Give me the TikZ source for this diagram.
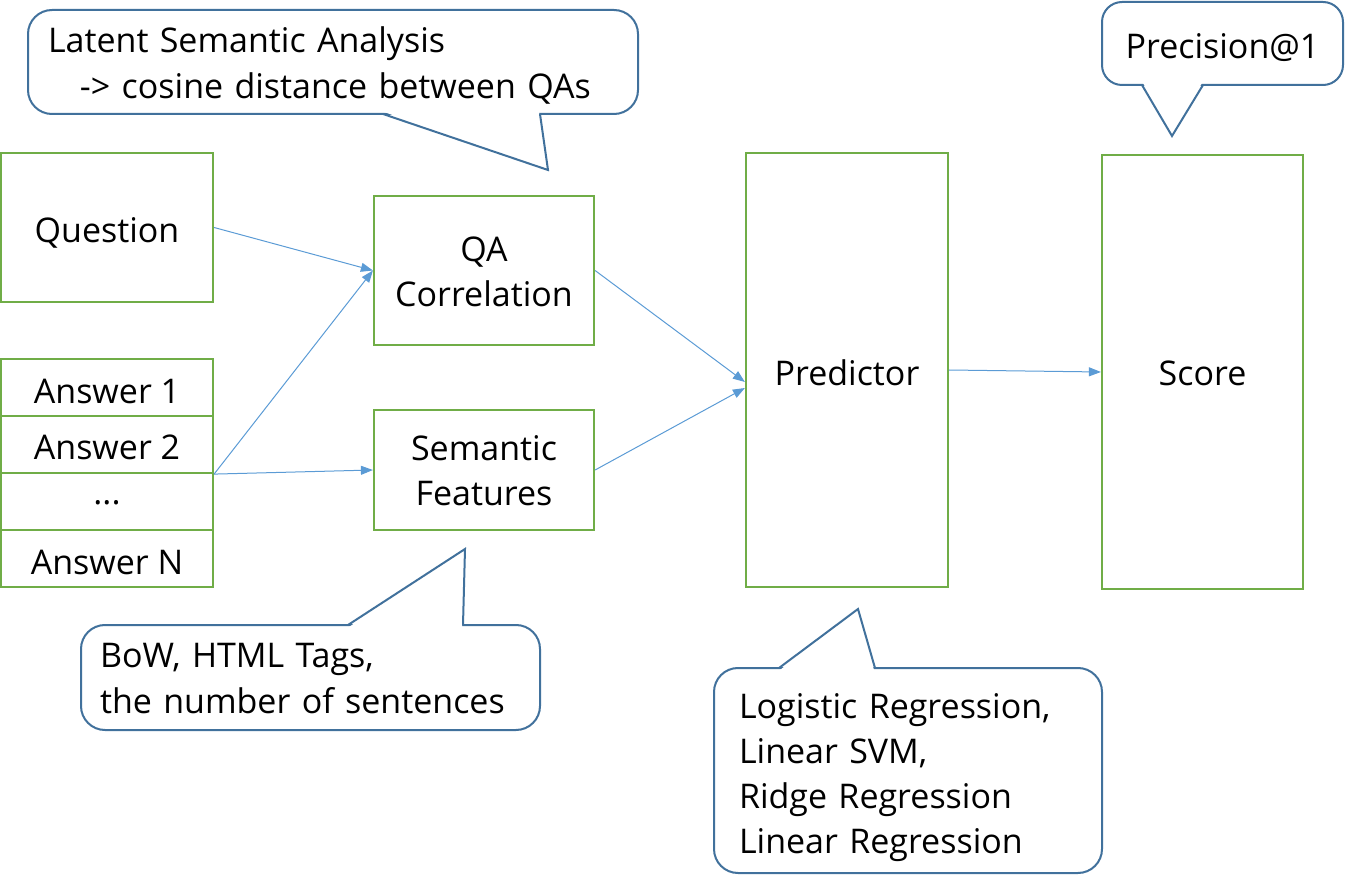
\documentclass[tikz,border=0pt]{standalone}
\usepackage{fontspec}
\setmainfont{Open Sans}
\usetikzlibrary{arrows.meta}
\definecolor{boxgreen}{HTML}{70AD47}
\definecolor{calloutblue}{HTML}{41719C}
\definecolor{arrowblue}{HTML}{5B9BD5}
\tikzset{x=1pt, y=-1pt,
  box/.style={draw=boxgreen, line width=2.2pt, inner sep=0pt, align=center, text height=31pt, text depth=0pt, font=\fontsize{34}{45}\selectfont},
  callout/.style={draw=calloutblue, line width=2pt, rounded corners=24pt, fill=white, inner ysep=0pt, text height=31pt, text depth=0pt, font=\fontsize{34}{46}\selectfont},
  tail/.style={draw=calloutblue, line width=2pt, line join=miter},
  flow/.style={draw=arrowblue, line width=1pt, -{Triangle[length=12pt,width=9pt]}}}

\begin{document}
\begin{tikzpicture}
           \useasboundingbox (0,0) rectangle (1345,885);

           \node[box, minimum width=212pt, minimum height=149pt] (question) at (107,227.5) {Question};
           \node[box, minimum width=212pt, minimum height=57pt] (ans1) at (107,387.5) {Answer 1};
           \node[box, minimum width=212pt, minimum height=57pt] (ans2) at (107,444.5) {Answer 2};
           \node[box, minimum width=212pt, minimum height=57pt, text height=5pt] (ansdots) at (107,501.5) {...};
           \node[box, minimum width=212pt, minimum height=57pt] (ansN) at (107,558.5) {Answer N};
           \node[box, minimum width=220pt, minimum height=149pt, text height=73pt] (qacorr) at (484,270.5) {QA\\Correlation};
           \node[box, minimum width=220pt, minimum height=120pt, text height=70pt] (semfeat) at (484,470) {Semantic\\Features};
           \node[box, minimum width=202pt, minimum height=434pt] (predictor) at (847,370) {Predictor};
           \node[box, minimum width=201pt, minimum height=434pt, text height=27pt] (score) at (1202.5,372) {Score};

           \draw[flow] (question.east) -- (qacorr.west);
           \draw[flow] (ans2.south east) -- (qacorr.west);
           \draw[flow] (ans2.south east) -- (semfeat.west);
           \draw[flow] (qacorr.east) -- ([yshift=-12pt]predictor.west);
           \draw[flow] (semfeat.east) -- ([yshift=-18pt]predictor.west);
           \draw[flow] (predictor.east) -- (score.west);

           \node[callout, minimum width=610pt, minimum height=104pt, text width=570pt, inner xsep=20pt, align=left, text depth=49pt] (lsa) at (333,62) {Latent Semantic Analysis\\\hspace*{32pt}-> cosine distance between QAs};
           \fill[white] (384,112) -- (548,170) -- (539,112) -- cycle;
           \draw[tail] (383,114) -- (548,170) -- (540,114);

           \node[callout, rounded corners=20pt, minimum width=241pt, minimum height=83pt] (prec) at (1222.5,43.5) {Precision@1};
           \fill[white] (1143,83) -- (1172,136) -- (1202,83) -- cycle;
           \draw[tail] (1142,85) -- (1172,136) -- (1203,85);

           \node[callout, minimum width=459pt, minimum height=105pt, text width=421pt, inner xsep=19pt, align=left, text depth=52pt] (bow) at (310.5,677.5) {BoW, HTML Tags,\\the number of sentences};
           \fill[white] (349,627) -- (465,549) -- (462,627) -- cycle;
           \draw[tail] (348,625) -- (465,549) -- (463,625);

           \node[callout, minimum width=388pt, minimum height=205pt, text width=338pt, inner xsep=25pt, align=left, text depth=136pt, font=\fontsize{34}{45}\selectfont] (models) at (908,770.5) {Logistic Regression,\\Linear SVM,\\Ridge Regression\\Linear Regression};
           \fill[white] (780,670) -- (858,609) -- (874,670) -- cycle;
           \draw[tail] (779,668) -- (858,609) -- (875,668);

\end{tikzpicture}
\end{document}
